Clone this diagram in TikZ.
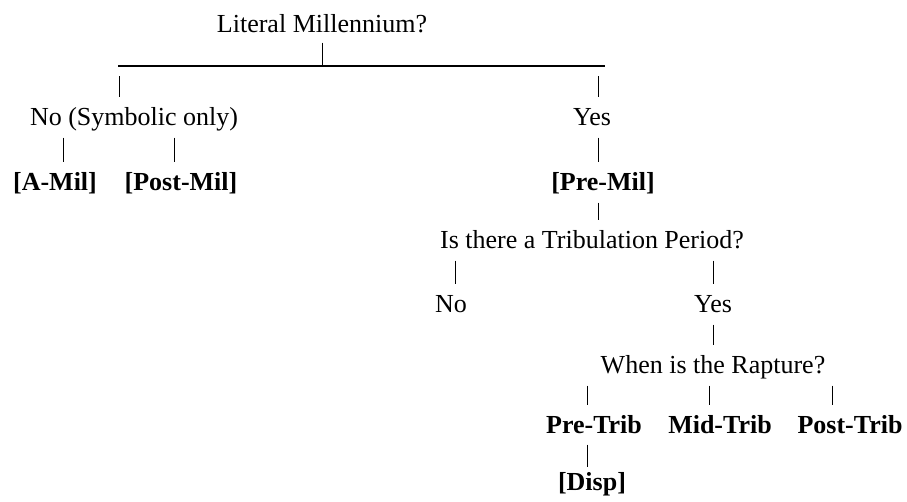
\documentclass[tikz,border=0pt]{standalone}
\usepackage{fontspec}
\setmainfont{Liberation Serif}
\usetikzlibrary{positioning}

\tikzset{
  txt/.style={inner sep=0pt, text height=17pt, text depth=0pt, font=\fontsize{26}{30}\selectfont},
  pick/.style={txt, font=\fontsize{26}{30}\selectfont\bfseries},
  link/.style={line width=0.9pt, shorten <=12pt, shorten >=11pt},
}

\begin{document}
\begin{tikzpicture}[x=1pt, y=-1pt]
  \useasboundingbox (0,0) rectangle (907,501);
  % first question and the bar
  \node[txt] (lit) at (322,24) {Literal Millennium?};
  \coordinate (barM) at (322,66);
  \coordinate (barL) at (118,66);
  \coordinate (barR) at (605,66);
  \draw[line width=1.2pt] (barL) -- (barR);
  \draw[link, shorten <=10pt, shorten >=0pt] (lit.south) -- (barM);
  % no branch
  \node[txt] (nosym) at (134,117) {No (Symbolic only)};
  \node[pick] (amil) at (55,182) {[A-Mil]};
  \node[pick] (postmil) at (181,182) {[Post-Mil]};
  \draw[link, shorten <=10pt] ([xshift=1pt]barL) -- ([xshift=1pt]barL |- nosym.north);
  \draw[link] ([xshift=8pt]amil.north |- nosym.south) -- ([xshift=8pt]amil.north);
  \draw[link] ([xshift=-7pt]postmil.north |- nosym.south) -- ([xshift=-7pt]postmil.north);
  % yes branch
  \node[txt] (yes) at (592,117) {Yes};
  \node[pick] (premil) at (603,182) {[Pre-Mil]};
  \draw[link, shorten <=10pt] ([xshift=-7pt]barR) -- ([xshift=-7pt]barR |- yes.north);
  \draw[link] ([xshift=-5pt]premil.north |- yes.south) -- ([xshift=-5pt]premil.north);
  % tribulation
  \node[txt] (trib) at (592,240) {Is there a Tribulation Period?};
  \draw[link] ([xshift=-5pt]premil.south) -- ([xshift=-5pt]premil.south |- trib.north);
  \node[txt] (notrib) at (451,304) {No};
  \node[txt] (yestrib) at (713,304) {Yes};
  \draw[link] ([xshift=4pt]notrib.north |- trib.south) -- ([xshift=4pt]notrib.north);
  \draw[link] (yestrib.north |- trib.south) -- (yestrib.north);
  % rapture
  \node[txt] (rapt) at (713,365) {When is the Rapture?};
  \draw[link] (yestrib.south) -- (rapt.north);
  \node[pick] (pretrib) at (594,425) {Pre-Trib};
  \node[pick] (midtrib) at (720,425) {Mid-Trib};
  \node[pick] (posttrib) at (850,425) {Post-Trib};
  \foreach \n/\dx in {pretrib/-7pt, midtrib/-11pt, posttrib/-18pt}
    \draw[link] ([xshift=\dx]\n.north |- rapt.south) -- ([xshift=\dx]\n.north);
  \node[pick] (disp) at (592,482) {[Disp]};
  \draw[link, shorten <=11pt, shorten >=6pt] ([xshift=-7pt]pretrib.south) -- ([xshift=-7pt]pretrib.south |- disp.north);
\end{tikzpicture}
\end{document}
